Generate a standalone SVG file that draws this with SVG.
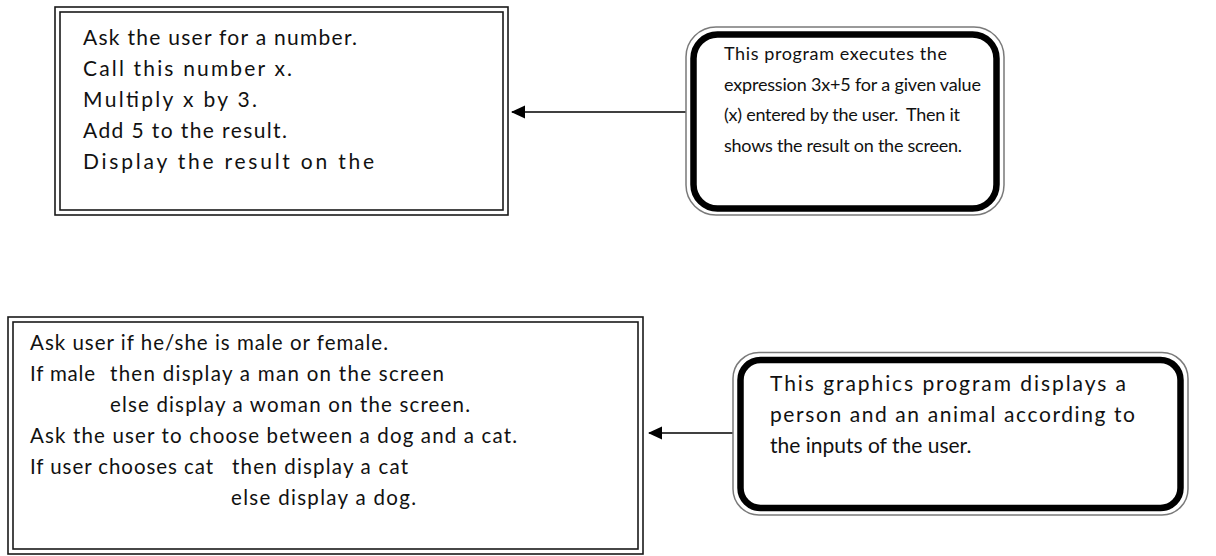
<svg xmlns="http://www.w3.org/2000/svg" width="1216" height="556" viewBox="0 0 1216 556">
<style>
.dbl{fill:none;stroke:#1a1a1a;stroke-width:1.6}
.gout{fill:none;stroke:#7a7a7a;stroke-width:1.5}
.thick{fill:none;stroke:#000;stroke-width:6.5}
.t{font-family:Lato,"Liberation Sans",Arial,sans-serif;font-size:19px;fill:#111}
.b1{font-size:21px}
.b2{font-size:18px}
.b3{font-size:20.5px}
.b4{font-size:21px}
.conn{fill:none;stroke:#404040;stroke-width:1.8}
</style>
<defs>
<marker id="ah" viewBox="0 0 14 14" refX="13" refY="7" markerWidth="14" markerHeight="14" markerUnits="userSpaceOnUse" orient="auto">
<path d="M0,0.5 L14,7 L0,13.5 Z" fill="#000"/>
</marker>
</defs>
<rect width="1216" height="556" fill="#fff"/>
<g id="connectors">
<line class="conn" x1="686" y1="112" x2="512" y2="112" marker-end="url(#ah)"/>
<line class="conn" x1="733" y1="433" x2="649" y2="433" marker-end="url(#ah)"/>
</g>
<g id="node-steps1">
<rect class="dbl" x="55" y="7" width="453" height="208"/>
<rect class="dbl" x="60" y="12" width="443" height="198"/>
<text class="t b1" x="83" y="45" textLength="274" lengthAdjust="spacing">Ask the user for a number.</text>
<text class="t b1" x="83" y="76" textLength="209" lengthAdjust="spacing">Call this number x.</text>
<text class="t b1" x="83" y="107" textLength="174" lengthAdjust="spacing">Multiply x by 3.</text>
<text class="t b1" x="83" y="138" textLength="204" lengthAdjust="spacing">Add 5 to the result.</text>
<text class="t b1" x="83" y="169" textLength="291" lengthAdjust="spacing">Display the result on the</text>
</g>
<g id="node-desc1">
<rect class="gout" x="686" y="27" width="318" height="188" rx="30"/>
<rect class="thick" x="693.5" y="34.5" width="303" height="174" rx="24"/>
<text class="t b2" x="724" y="60" textLength="223" lengthAdjust="spacing">This program executes the</text>
<text class="t b2" x="724" y="91" textLength="257" lengthAdjust="spacing">expression 3x+5 for a given value</text>
<text class="t b2" x="724" y="121" textLength="236" lengthAdjust="spacing">(x) entered by the user.&#160; Then it</text>
<text class="t b2" x="724" y="152" textLength="238" lengthAdjust="spacing">shows the result on the screen.</text>
</g>
<g id="node-steps2">
<rect class="dbl" x="8" y="317" width="635" height="237"/>
<rect class="dbl" x="13" y="322" width="625" height="227"/>
<text class="t b3" x="30" y="350" textLength="358" lengthAdjust="spacing">Ask user if he/she is male or female.</text>
<text class="t b3" x="30" y="381" textLength="65" lengthAdjust="spacing">If male</text>
<text class="t b3" x="110" y="381" textLength="334" lengthAdjust="spacing">then display a man on the screen</text>
<text class="t b3" x="110" y="412" textLength="360" lengthAdjust="spacing">else display a woman on the screen.</text>
<text class="t b3" x="30" y="443" textLength="487" lengthAdjust="spacing">Ask the user to choose between a dog and a cat.</text>
<text class="t b3" x="30" y="474" textLength="183" lengthAdjust="spacing">If user chooses cat</text>
<text class="t b3" x="232" y="474" textLength="176" lengthAdjust="spacing">then display a cat</text>
<text class="t b3" x="231" y="505" textLength="185" lengthAdjust="spacing">else display a dog.</text>
</g>
<g id="node-desc2">
<rect class="gout" x="733" y="352.5" width="455" height="162.5" rx="26"/>
<rect class="thick" x="740.5" y="360" width="440" height="148" rx="20"/>
<text class="t b4" x="770" y="391" textLength="356" lengthAdjust="spacing">This graphics program displays a</text>
<text class="t b4" x="770" y="422" textLength="365" lengthAdjust="spacing">person and an animal according to</text>
<text class="t b4" x="770" y="453">the inputs of the user.</text>
</g>
</svg>
